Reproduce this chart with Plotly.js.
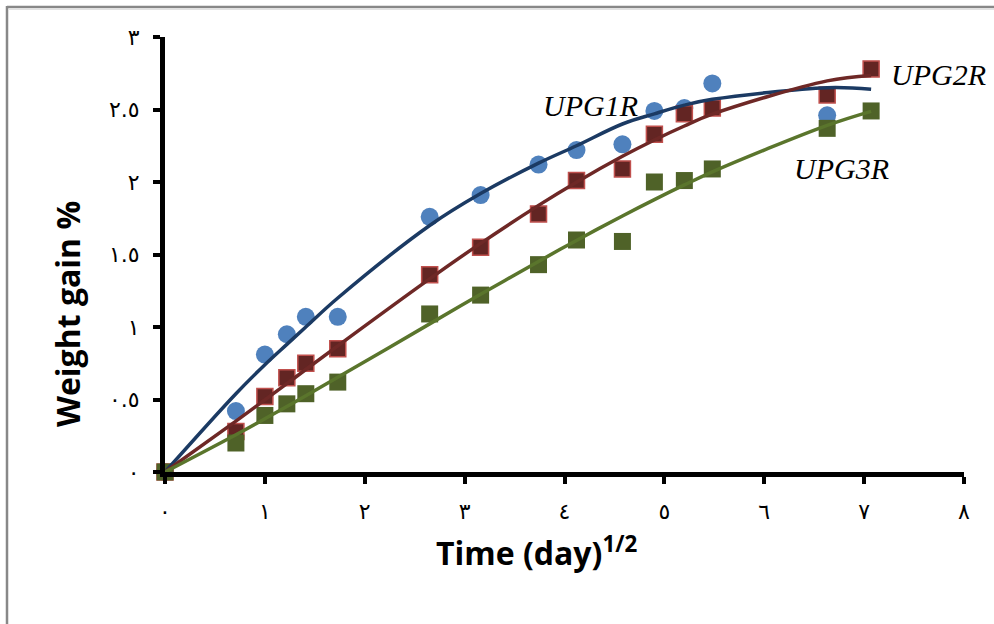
<!DOCTYPE html>
<html>
<head>
<meta charset="utf-8">
<script src="https://cdn.plot.ly/plotly-3.0.1.min.js"></script>
<style>
  html, body { margin: 0; padding: 0; background: #fff; }
  #chart { width: 994px; height: 624px; }
</style>
</head>
<body>
<div id="chart"></div>
<script>
// ---- data ----
const xTime   = [0, 0.71, 1.0, 1.22, 1.41, 1.73, 2.65, 3.16, 3.74, 4.12, 4.58, 4.90, 5.20, 5.48, 6.63, 7.07];
const xBlue   = [0, 0.71, 1.0, 1.22, 1.41, 1.73, 2.65, 3.16, 3.74, 4.12, 4.58, 4.90, 5.20, 5.48, 6.63];
const upg1r   = [0, 0.42, 0.81, 0.95, 1.07, 1.07, 1.76, 1.91, 2.12, 2.22, 2.26, 2.49, 2.51, 2.68, 2.46];
const upg2r   = [0, 0.28, 0.52, 0.65, 0.75, 0.85, 1.36, 1.55, 1.78, 2.01, 2.09, 2.33, 2.47, 2.51, 2.60, 2.78];
const upg3r   = [0, 0.20, 0.39, 0.47, 0.54, 0.62, 1.09, 1.22, 1.43, 1.60, 1.59, 2.00, 2.01, 2.09, 2.37, 2.49];
// UPG1R trendline as drawn in the reference (at the xTime positions)
const upg1rTrend = [0, 0.54, 0.74, 0.88, 1.00, 1.20, 1.70, 1.92, 2.13, 2.25, 2.40, 2.47, 2.53, 2.57, 2.65, 2.64];
const seriesNames = ['UPG1R', 'UPG2R', 'UPG3R'];
const xTickVals = [0, 1, 2, 3, 4, 5, 6, 7, 8];
const xTickText = ['٠', '١', '٢', '٣', '٤', '٥', '٦', '٧', '٨'];
const yTickVals = [0, 0.5, 1, 1.5, 2, 2.5, 3];
const yTickText = ['٠', '٠.٥', '١', '١.٥', '٢', '٢.٥', '٣'];
const xTitle = '<b>Time (day)<sup>1/2</sup></b>';
const yTitle = '<b>Weight gain %</b>';

// ---- polynomial (order 3, intercept 0) least-squares trendline ----
function fitCubic0(xs, ys) {
  const M = [[0,0,0],[0,0,0],[0,0,0]], v = [0,0,0];
  for (let i = 0; i < xs.length; i++) {
    const b = [xs[i], xs[i] ** 2, xs[i] ** 3];
    for (let r = 0; r < 3; r++) {
      v[r] += b[r] * ys[i];
      for (let c = 0; c < 3; c++) M[r][c] += b[r] * b[c];
    }
  }
  for (let k = 0; k < 3; k++) {
    for (let r = k + 1; r < 3; r++) {
      const f = M[r][k] / M[k][k];
      for (let c = k; c < 3; c++) M[r][c] -= f * M[k][c];
      v[r] -= f * v[k];
    }
  }
  const p = [0,0,0];
  for (let r = 2; r >= 0; r--) {
    let s = v[r];
    for (let c = r + 1; c < 3; c++) s -= M[r][c] * p[c];
    p[r] = s / M[r][r];
  }
  return x => p[0] * x + p[1] * x * x + p[2] * x * x * x;
}
const f2 = fitCubic0(xTime, upg2r);
const f3 = fitCubic0(xTime, upg3r);

const blueMarker = '#4F81BD', blueLine = '#1B3A63';
const redFill = '#632523', redEdge = '#C0504D', redLine = '#6E2826';
const greenFill = '#4F6228', greenLine = '#5A752C';

const traces = [
  { x: xBlue, y: upg1r, name: seriesNames[0], mode: 'markers', type: 'scatter', cliponaxis: false,
    marker: { symbol: 'circle', size: 18, color: blueMarker, line: { width: 0 } } },
  { x: xTime, y: upg2r, name: seriesNames[1], mode: 'markers', type: 'scatter', cliponaxis: false,
    marker: { symbol: 'square', size: 16, color: redFill, line: { width: 1.5, color: redEdge } } },
  { x: xTime, y: upg3r, name: seriesNames[2], mode: 'markers', type: 'scatter', cliponaxis: false,
    marker: { symbol: 'square', size: 17, color: greenFill, line: { width: 0 } } },
  { x: xTime, y: upg1rTrend, mode: 'lines', type: 'scatter', cliponaxis: false, hoverinfo: 'skip',
    line: { color: blueLine, width: 3.5, shape: 'spline', smoothing: 1 } },
  { x: xTime, y: xTime.map(f2), mode: 'lines', type: 'scatter', cliponaxis: false, hoverinfo: 'skip',
    line: { color: redLine, width: 3.5, shape: 'spline' } },
  { x: xTime, y: xTime.map(f3), mode: 'lines', type: 'scatter', cliponaxis: false, hoverinfo: 'skip',
    line: { color: greenLine, width: 3.5, shape: 'spline' } }
];

const W = 994, H = 624, mL = 165, mR = 30, mT = 37, mB = 152;
const pw = W - mL - mR, ph = H - mT - mB;
const px = v => (v - mL) / pw;          // pixel -> paper x
const py = v => (H - mB - v) / ph;      // pixel -> paper y

const labelFont = { family: 'Liberation Serif, serif', size: 30, color: '#000' };
const tickFont = { family: 'DejaVu Sans, sans-serif', size: 22, color: '#000' };

const layout = {
  width: W, height: H,
  margin: { l: mL, r: mR, t: mT, b: mB, pad: 0 },
  paper_bgcolor: '#fff', plot_bgcolor: '#fff',
  showlegend: false,
  xaxis: {
    range: [0, 8], tickvals: xTickVals, ticktext: xTickText,
    showgrid: false, zeroline: false, showline: true, linecolor: '#000', linewidth: 5,
    ticks: 'outside', ticklen: 7, tickwidth: 4, tickcolor: '#000',
    ticklabelstandoff: 9, tickfont: tickFont
  },
  yaxis: {
    range: [0, 3], tickvals: yTickVals, ticktext: yTickText,
    showgrid: false, zeroline: false, showline: true, linecolor: '#000', linewidth: 5,
    ticks: 'outside', ticklen: 7, tickwidth: 4, tickcolor: '#000',
    ticklabelstandoff: 9, tickfont: tickFont
  },
  annotations: [
    { xref: 'x', yref: 'y', x: 4.26, y: 2.53, text: '<i>' + seriesNames[0] + '</i>', showarrow: false,
      font: labelFont, xanchor: 'center', yanchor: 'middle' },
    { xref: 'x', yref: 'y', x: 7.74, y: 2.74, text: '<i>' + seriesNames[1] + '</i>', showarrow: false,
      font: labelFont, xanchor: 'center', yanchor: 'middle' },
    { xref: 'x', yref: 'y', x: 6.77, y: 2.09, text: '<i>' + seriesNames[2] + '</i>', showarrow: false,
      font: labelFont, xanchor: 'center', yanchor: 'middle' },
    { xref: 'paper', yref: 'paper', x: px(536), y: py(551), text: xTitle, showarrow: false,
      font: { family: 'Open Sans, sans-serif', size: 32, color: '#000' }, xanchor: 'center', yanchor: 'middle' },
    { xref: 'paper', yref: 'paper', x: px(67), y: py(314), text: yTitle, showarrow: false, textangle: -90,
      font: { family: 'Open Sans, sans-serif', size: 32, color: '#000' }, xanchor: 'center', yanchor: 'middle' }
  ],
  shapes: [
    { type: 'line', xref: 'paper', yref: 'paper', x0: px(7), x1: px(W + 5), y0: py(7), y1: py(7),
      line: { color: '#888', width: 2.5 } },
    { type: 'line', xref: 'paper', yref: 'paper', x0: px(7), x1: px(7), y0: py(6), y1: py(H + 5),
      line: { color: '#888', width: 2.5 } },
    { type: 'line', xref: 'paper', yref: 'paper', x0: px(9), x1: px(W + 5), y0: py(9.5), y1: py(9.5),
      line: { color: '#e2e2e2', width: 1 } }
  ]
};

Plotly.newPlot('chart', traces, layout, { displayModeBar: false, staticPlot: true });
</script>
</body>
</html>
